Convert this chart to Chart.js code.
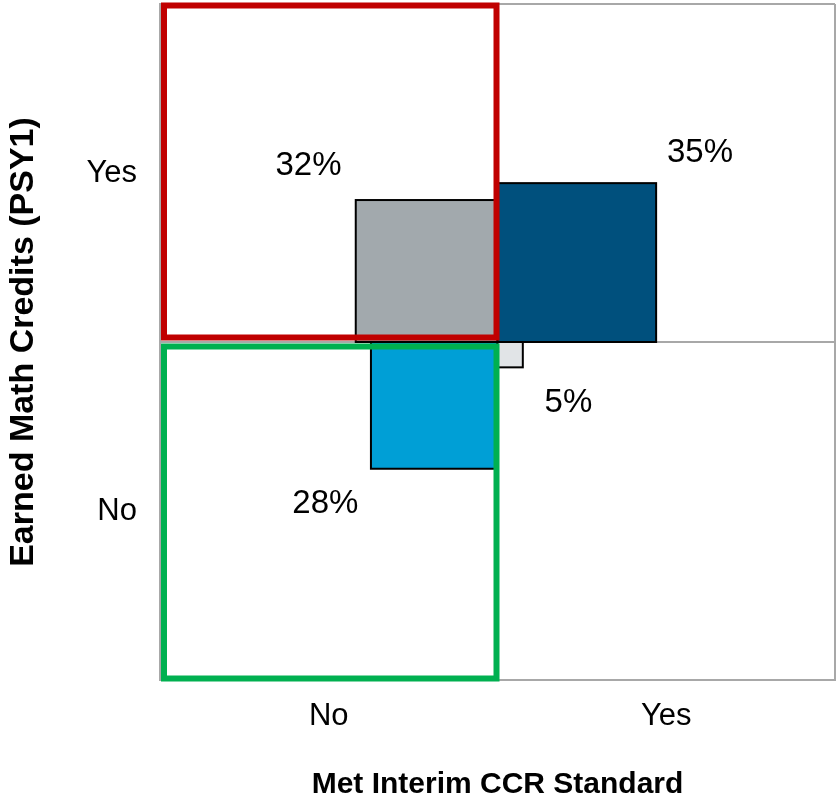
<!DOCTYPE html>
<html>
<head>
<meta charset="utf-8">
<script src="https://cdn.jsdelivr.net/npm/chart.js@4/dist/chart.umd.min.js"></script>
<style>
  html, body { margin: 0; padding: 0; background: #fff; }
  #wrap { width: 836px; height: 799px; }
</style>
</head>
<body>
<div id="wrap"><canvas id="quadChart" width="836" height="799"></canvas></div>
<script>
const xLabels = ["No", "Yes"];
const yLabels = ["No", "Yes"];

// one entry per cell
const cellCol = ["No", "Yes", "No", "Yes"];
const cellRow = ["Yes", "Yes", "No", "No"];
const cellPct = [32, 35, 28, 5];
const cellSide = [0.42, 0.47, 0.375, 0.075]; // square side, in axis units

const cellFill = ["#a2a9ad", "#00507d", "#009fd6", "#e1e4e7"];
const labelAt = [[0.44, 1.52], [1.60, 1.56], [0.49, 0.52], [1.21, 0.82]];

const highlightRow = ["Yes", "No"];
const highlightColor = ["#c00000", "#00b050"];

const FONT = "'Liberation Sans', Arial, sans-serif";
const GRID = "#a8a8a8";

const quadPlugin = {
  id: "quadPlugin",
  afterDatasetsDraw(chart) {
    const ctx = chart.ctx;
    const xs = chart.scales.x, ys = chart.scales.y;
    const mid = 1;

    // squares, all anchored at the middle of the grid
    cellPct.forEach((p, i) => {
      const side = cellSide[i];
      const x0 = cellCol[i] === "Yes" ? mid : mid - side;
      const y0 = cellRow[i] === "Yes" ? mid : mid - side;
      const l = xs.getPixelForValue(x0), r = xs.getPixelForValue(x0 + side);
      const t = ys.getPixelForValue(y0 + side), b = ys.getPixelForValue(y0);
      ctx.save();
      ctx.fillStyle = cellFill[i];
      ctx.fillRect(l, t, r - l, b - t);
      ctx.lineWidth = 2;
      ctx.strokeStyle = "#000";
      ctx.strokeRect(l, t, r - l, b - t);
      ctx.restore();
    });

    // coloured outlines round the "No" column cells
    highlightRow.forEach((row, i) => {
      const ri = yLabels.indexOf(row);
      const l = xs.getPixelForValue(0), r = xs.getPixelForValue(1);
      const t = ys.getPixelForValue(ri + 1), b = ys.getPixelForValue(ri);
      const shift = row === "Yes" ? -1.5 : 1.5;
      ctx.save();
      ctx.lineWidth = 6;
      ctx.strokeStyle = highlightColor[i];
      ctx.strokeRect(l + 4, t + 3 + shift, r - l - 5, b - t - 6);
      ctx.restore();
    });

    // percentages
    ctx.save();
    ctx.font = "33px " + FONT;
    ctx.fillStyle = "#000";
    ctx.textAlign = "center";
    ctx.textBaseline = "middle";
    cellPct.forEach((p, i) => {
      ctx.fillText(p + "%", xs.getPixelForValue(labelAt[i][0]), ys.getPixelForValue(labelAt[i][1]));
    });
    ctx.restore();
  }
};

function gridColor(ctx) {
  const v = ctx.tick ? ctx.tick.value : null;
  return (v === 0 || v === 1 || v === 2) ? GRID : "rgba(0,0,0,0)";
}

function tickLabel(labels) {
  return function (value) {
    const i = value - 0.5;
    return Number.isInteger(i) && labels[i] !== undefined ? labels[i] : "";
  };
}

function quarterTicks(scale) {
  scale.ticks = [0, 0.5, 1, 1.5, 2].map(v => ({ value: v }));
}

new Chart(document.getElementById("quadChart"), {
  type: "scatter",
  data: { datasets: [] },
  options: {
    responsive: false,
    animation: false,
    events: [],
    layout: { padding: { top: 4, right: 1, left: 0, bottom: 0 } },
    plugins: { legend: { display: false }, tooltip: { enabled: false } },
    scales: {
      x: {
        type: "linear",
        min: 0,
        max: 2,
        afterBuildTicks: quarterTicks,
        afterFit(scale) {
          scale.height = 119;
          scale.paddingLeft = 0;
          scale.paddingRight = 0;
        },
        grid: { color: gridColor, lineWidth: 2, drawTicks: false },
        border: { color: GRID, width: 2 },
        ticks: {
          autoSkip: false,
          maxRotation: 0,
          padding: 18,
          color: "#000",
          font: { family: FONT, size: 31 },
          callback: tickLabel(xLabels)
        },
        title: {
          display: true,
          text: "Met Interim CCR Standard",
          color: "#000",
          font: { family: FONT, size: 30, weight: "bold", lineHeight: 1 },
          padding: { top: 0, bottom: -1 }
        }
      },
      y: {
        type: "linear",
        min: 0,
        max: 2,
        afterBuildTicks: quarterTicks,
        afterFit(scale) {
          scale.width = 160;
          scale.paddingTop = 0;
          scale.paddingBottom = 0;
        },
        grid: { color: gridColor, lineWidth: 2, drawTicks: false },
        border: { color: GRID, width: 2 },
        ticks: {
          autoSkip: false,
          padding: 23,
          color: "#000",
          font: { family: FONT, size: 31 },
          callback: tickLabel(yLabels)
        },
        title: {
          display: true,
          text: "Earned Math Credits (PSY1)",
          color: "#000",
          font: { family: FONT, size: 34, weight: "bold" },
          padding: { top: 3, bottom: 0 }
        }
      }
    }
  },
  plugins: [quadPlugin]
});
</script>
</body>
</html>
